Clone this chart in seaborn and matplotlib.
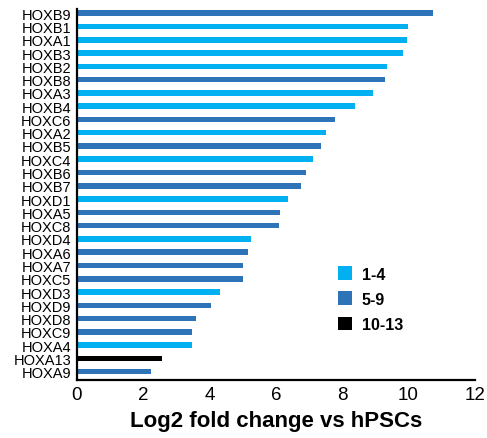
import pandas as pd
import matplotlib
matplotlib.use("Agg")
import matplotlib.pyplot as plt
import seaborn as sns


genes = ["HOXB9", "HOXB1", "HOXA1", "HOXB3", "HOXB2", "HOXB8", "HOXA3", "HOXB4",
         "HOXC6", "HOXA2", "HOXB5", "HOXC4", "HOXB6", "HOXB7", "HOXD1", "HOXA5",
         "HOXC8", "HOXD4", "HOXA6", "HOXA7", "HOXC5", "HOXD3", "HOXD9", "HOXD8",
         "HOXC9", "HOXA4", "HOXA13", "HOXA9"]
log2fc = [10.73, 9.99, 9.95, 9.83, 9.36, 9.28, 8.93, 8.40,
          7.78, 7.50, 7.35, 7.12, 6.91, 6.75, 6.37, 6.13,
          6.10, 5.26, 5.17, 5.02, 5.02, 4.32, 4.05, 3.58,
          3.47, 3.47, 2.56, 2.22]
groups = ["5-9", "1-4", "1-4", "1-4", "1-4", "5-9", "1-4", "1-4",
          "5-9", "1-4", "5-9", "1-4", "5-9", "5-9", "1-4", "5-9",
          "5-9", "1-4", "5-9", "5-9", "5-9", "1-4", "5-9", "5-9",
          "5-9", "1-4", "10-13", "5-9"]
group_order = ["1-4", "5-9", "10-13"]
group_colors = ["#00B0F0", "#2E72B8", "#000000"]


def make_plot():
    df = pd.DataFrame({"gene": genes, "value": log2fc, "group": groups})

    sns.set_style("white")
    plt.rcParams["font.family"] = ["Liberation Sans", "DejaVu Sans"]
    plt.rcParams["text.color"] = "black"
    plt.rcParams["axes.labelcolor"] = "black"
    plt.rcParams["xtick.color"] = "black"
    plt.rcParams["ytick.color"] = "black"

    fig = plt.figure(figsize=(4.87, 4.39), dpi=100)
    ax = fig.add_axes([0.158, 0.132, 0.817, 0.845])

    sns.barplot(data=df, y="gene", x="value", hue="group", hue_order=group_order,
                palette=group_colors, order=genes, dodge=False, width=0.42,
                saturation=1, linewidth=0, orient="h", ax=ax)

    ax.set_xlim(0, 12)
    ax.set_ylim(len(genes) - 1 + 0.63, -0.31)
    ax.set_xticks(range(0, 13, 2))
    ax.tick_params(axis="x", length=0, labelsize=13.5, pad=4, labelcolor="black")
    ax.tick_params(axis="y", length=0, labelsize=10.5, pad=4, labelcolor="black")
    ax.set_ylabel("")
    ax.set_xlabel("Log2 fold change vs hPSCs", fontsize=16, fontweight="bold",
                  labelpad=5, color="black")

    sns.despine(ax=ax)
    for side in ["left", "bottom"]:
        ax.spines[side].set_linewidth(1.6)
        ax.spines[side].set_color("black")

    ax.legend(frameon=False, loc="upper left", bbox_to_anchor=(0.62, 0.345),
              prop={"weight": "bold", "size": 11.5}, handlelength=0.9,
              handleheight=0.9, handletextpad=0.6, labelspacing=0.62,
              labelcolor="black")

    fig.savefig("out.png", dpi=100)
    plt.close(fig)


if __name__ == "__main__":
    make_plot()
